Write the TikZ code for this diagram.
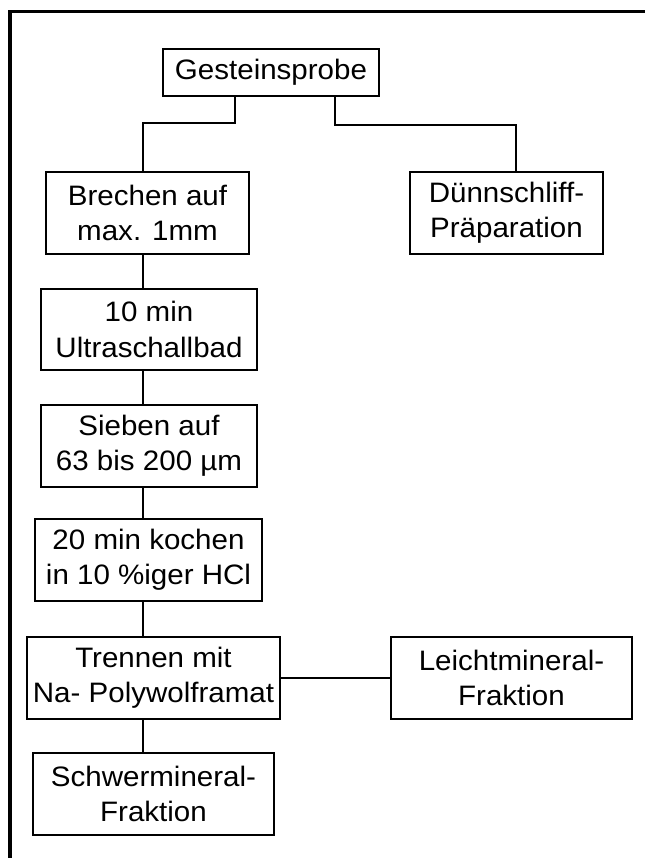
\documentclass[tikz,border=0pt]{standalone}
\usepackage{fontspec}
\setmainfont[FakeStretch=1.05]{Liberation Sans}
\usetikzlibrary{positioning}

\begin{document}
\begin{tikzpicture}[
  x=0.3mm, y=-0.3mm,
  stepbox/.style={draw, line width=0.6mm, inner sep=0pt,
                  minimum height=24.5mm, align=center,
                  font=\fontsize{24}{30}\selectfont},
  link/.style={line width=0.6mm},
  frame/.style={line width=1.1mm, line join=miter},
]
\useasboundingbox (0,0) rectangle (644,858);

% Outer frame (cut by the page edge)
\draw[frame] (10,875) -- (10,11.5) -- (665,11.5);

% Main chain
\node[stepbox, minimum width=64.8mm, minimum height=14.1mm] (probe) at (271,72.5) {Gesteinsprobe};
\node[stepbox, minimum width=60.9mm] (brechen) at (147.5,213) {Brechen auf\\max. 1mm};
\node[stepbox, minimum width=57.9mm] (duenn)   at (506.5,213) {Dünnschliff-\\Präparation};
\node[stepbox, minimum width=64.8mm] (ultra)   at (149,329.5) {10 min\\Ultraschallbad};
\node[stepbox, minimum width=64.8mm] (sieben)  at (149,446)   {Sieben auf\\63 bis 200 µm};
\node[stepbox, minimum width=68.1mm] (hcl)     at (148.5,560) {20 min kochen\\in 10 \%iger HCl};
\node[stepbox, minimum width=75.9mm] (trennen) at (153.5,678) {Trennen mit\\Na- Polywolframat};
\node[stepbox, minimum width=72.3mm] (schwer)  at (153.5,794) {Schwermineral-\\Fraktion};
\node[stepbox, minimum width=72.3mm] (leicht)  at (511.5,678) {Leichtmineral-\\Fraktion};

% Elbows and trunk lines
\coordinate (lft)   at (235,123);
\coordinate (rgt)   at (335,125);
\coordinate (trunk) at (143,0);
\coordinate (dn)    at (516,0);

% Connectors
\draw[link] (probe.south -| lft) -- (lft) -| (brechen.north -| trunk);
\draw[link] (probe.south -| rgt) -- (rgt) -| (duenn.north -| dn);

\draw[link] (brechen.south -| trunk) -- (ultra.north -| trunk);
\draw[link] (ultra.south -| trunk)   -- (sieben.north -| trunk);
\draw[link] (sieben.south -| trunk)  -- (hcl.north -| trunk);
\draw[link] (hcl.south -| trunk)     -- (trennen.north -| trunk);
\draw[link] (trennen.south -| trunk) -- (schwer.north -| trunk);

\draw[link] (trennen.east) -- (leicht.west);
\end{tikzpicture}
\end{document}
